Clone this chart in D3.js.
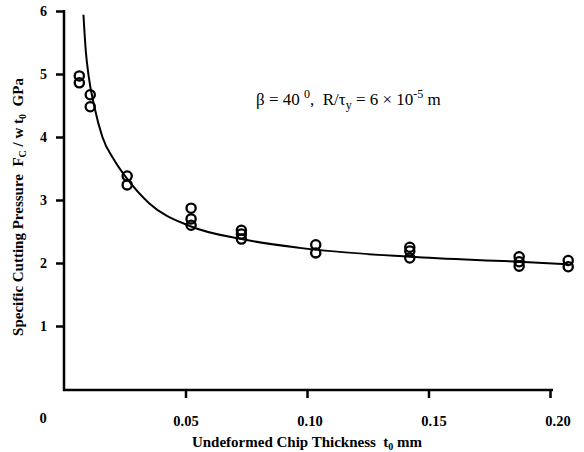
<!DOCTYPE html>
<html>
<head>
<meta charset="utf-8">
<script src="https://cdn.jsdelivr.net/npm/d3@7"></script>
<style>
  body { margin: 0; background: #fff; }
  text { font-family: "Liberation Serif", "Times New Roman", serif; fill: #000; white-space: pre; }
</style>
</head>
<body>
<svg width="584" height="452"></svg>
<script>
// measured points (chip thickness mm, pressure GPa)
var xData = [0.0063, 0.0063, 0.0108, 0.0108, 0.026, 0.026,
             0.0523, 0.0523, 0.0523, 0.073, 0.073, 0.073,
             0.1036, 0.1036, 0.1423, 0.1423, 0.1423,
             0.1873, 0.1873, 0.1873, 0.2075, 0.2075];
var yData = [4.97, 4.86, 4.67, 4.48, 3.38, 3.24,
             2.87, 2.70, 2.60, 2.52, 2.46, 2.38,
             2.29, 2.16, 2.25, 2.19, 2.08,
             2.10, 2.02, 1.95, 2.04, 1.94];

// theory curve
var curveX = [0.0080, 0.0090, 0.0101, 0.0125, 0.0158, 0.0207, 0.0257, 0.035,
              0.0523, 0.073, 0.097, 0.1423, 0.1873, 0.2075];
var curveY = [5.94, 5.35, 4.98, 4.48, 4.00, 3.63, 3.35, 2.95,
              2.58, 2.38, 2.24, 2.10, 2.02, 1.98];

var xTicks = [0.05, 0.10, 0.15, 0.20];
var yTicks = [1, 2, 3, 4, 5, 6];

var svg = d3.select("svg");

var x = d3.scaleLinear().domain([0, 0.2]).range([64, 550]);
var y = d3.scaleLinear().domain([0, 6]).range([389, 11]);

// y axis
var yAxis = svg.append("g")
    .attr("transform", "translate(64,0)")
    .call(d3.axisLeft(y).tickValues(yTicks).tickSize(8).tickSizeOuter(0).tickPadding(9)
        .tickFormat(d3.format("d")));
yAxis.select(".domain").remove();
yAxis.selectAll(".tick line").attr("stroke", "#000").attr("stroke-width", 2.5);
yAxis.selectAll(".tick text")
    .style("font-family", "Liberation Serif").style("font-weight", "bold").style("font-size", "14px");

// x axis
var xAxis = svg.append("g")
    .attr("transform", "translate(0,390)")
    .call(d3.axisBottom(x).tickValues(xTicks).tickSize(8).tickSizeOuter(0).tickPadding(18)
        .tickFormat(d3.format(".2f")));
xAxis.select(".domain").remove();
xAxis.selectAll(".tick line").attr("stroke", "#000").attr("stroke-width", 2.5);
xAxis.selectAll(".tick text")
    .attr("dx", function(d, i){ return i * 2.5; })
    .style("font-family", "Liberation Serif").style("font-weight", "bold").style("font-size", "14.5px");

// axis lines
svg.append("line").attr("x1", 64).attr("x2", 64).attr("y1", y(6) - 1).attr("y2", 391)
    .attr("stroke", "#000").attr("stroke-width", 2.5);
svg.append("line").attr("x1", 63).attr("x2", 553).attr("y1", 390).attr("y2", 390)
    .attr("stroke", "#000").attr("stroke-width", 2.5);

// origin label
svg.append("text").attr("x", 43).attr("y", 423).attr("text-anchor", "middle")
    .style("font-weight", "bold").style("font-size", "14.5px").text("0");

// curve
var line = d3.line()
    .x(function(d){ return x(d[0]); })
    .y(function(d){ return y(d[1]); })
    .curve(d3.curveMonotoneX);
svg.append("path")
    .datum(d3.zip(curveX, curveY))
    .attr("d", line)
    .attr("fill", "none").attr("stroke", "#000").attr("stroke-width", 2);

// points
svg.append("g").selectAll("circle")
    .data(d3.zip(xData, yData))
    .enter().append("circle")
    .attr("cx", function(d){ return x(d[0]); })
    .attr("cy", function(d){ return y(d[1]); })
    .attr("r", 4.6)
    .attr("fill", "none").attr("stroke", "#000").attr("stroke-width", 2.3);

// annotation
var ann = svg.append("text").attr("x", 256).attr("y", 105).style("font-size", "17px");
ann.append("tspan").text("\u03b2 = 40 ");
ann.append("tspan").attr("dy", -7).style("font-size", "12px").text("0");
ann.append("tspan").attr("dy", 7).text(",  R/\u03c4");
ann.append("tspan").attr("dy", 4).style("font-size", "12px").text("y");
ann.append("tspan").attr("dy", -4).text(" = 6 \u00d7 10");
ann.append("tspan").attr("dy", -7).style("font-size", "12px").text("-5");
ann.append("tspan").attr("dy", 7).text(" m");

// x title
var xt = svg.append("text").attr("x", 307).attr("y", 447).attr("text-anchor", "middle")
    .style("font-weight", "bold").style("font-size", "15px");
xt.append("tspan").text("Undeformed Chip Thickness  t");
xt.append("tspan").attr("dy", 3).style("font-size", "10px").text("0");
xt.append("tspan").attr("dy", -3).text(" mm");

// y title
var yt = svg.append("text").attr("transform", "translate(23,207) rotate(-90)")
    .attr("text-anchor", "middle")
    .style("font-weight", "bold").style("font-size", "15px");
yt.append("tspan").text("Specific Cutting Pressure  F");
yt.append("tspan").attr("dy", 3).style("font-size", "10px").text("C");
yt.append("tspan").attr("dy", -3).text(" / w t");
yt.append("tspan").attr("dy", 3).style("font-size", "10px").text("0");
yt.append("tspan").attr("dy", -3).text("  GPa");
</script>
</body>
</html>
